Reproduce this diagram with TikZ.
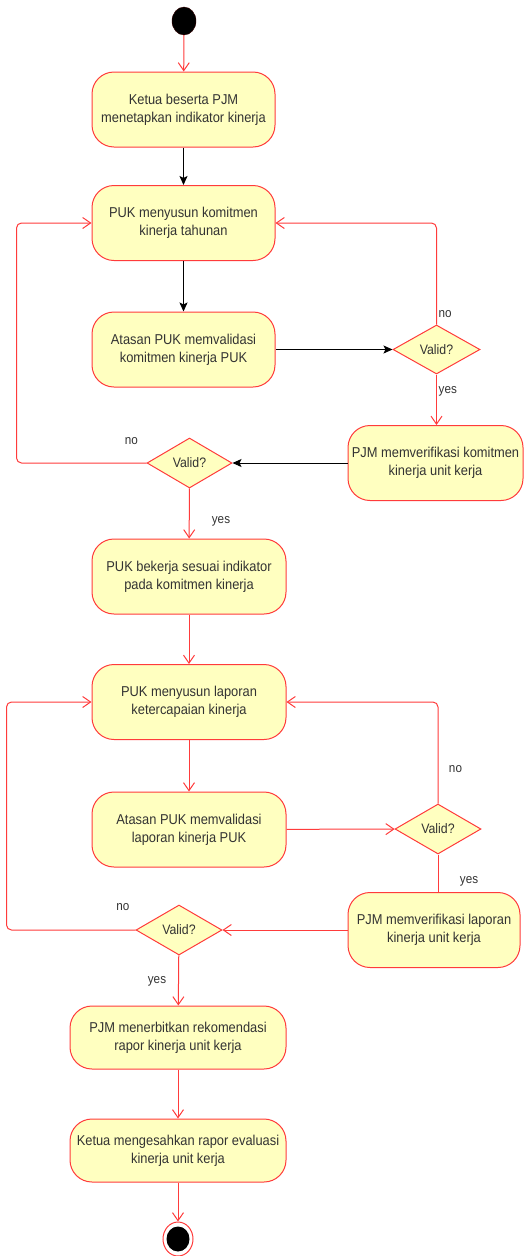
\documentclass[tikz,border=0pt]{standalone}
\usepackage{fontspec}
\setmainfont{Liberation Sans}[FakeStretch=0.9]
\usetikzlibrary{shapes.geometric,arrows.meta}
\definecolor{actfill}{HTML}{FFFFC0}
\definecolor{actline}{HTML}{FF3B3B}
\definecolor{txt}{HTML}{333333}

\begin{document}
\begin{tikzpicture}[x=1pt,y=-1pt,
    act/.style={draw=actline,fill=actfill,rounded corners=22pt,line width=1pt,
      minimum height=75pt,align=center,text=txt,font=\fontsize{14.3}{17.7}\selectfont},
    dec/.style={diamond,draw=actline,fill=actfill,line width=1pt,minimum width=87pt,
      minimum height=49pt,inner sep=0pt,text=txt,font=\fontsize{13.7}{16}\selectfont},
    startdot/.style={ellipse,fill=black,draw=black!80!red,minimum width=24pt,minimum height=28pt,inner sep=0pt},
    enddot/.style={ellipse,fill=black,minimum width=23pt,minimum height=25pt,inner sep=0pt},
    endring/.style={ellipse,draw=actline,line width=1pt,minimum width=30pt,minimum height=34pt,inner sep=0pt},
    lbl/.style={text=txt,font=\fontsize{13}{15}\selectfont,inner sep=0pt},
    redflow/.style={draw=actline,line width=1pt,rounded corners=5pt,-{Straight Barb[length=8pt,width=11pt]}},
    blkflow/.style={draw=black,line width=1pt,-{Stealth[length=9pt,width=8pt,inset=2pt]}}]
  \useasboundingbox (0,0) rectangle (523,1256);
  \path
    (184,21) node[startdot] (s) {}
    (183.5,109.5) node[act,minimum width=183pt] (a1) {Ketua beserta PJM\\menetapkan indikator kinerja}
    (183.5,223) node[act,minimum width=183pt] (a2) {PUK menyusun komitmen\\kinerja tahunan}
    (183.5,349.5) node[act,minimum width=183pt] (a3) {Atasan PUK memvalidasi\\komitmen kinerja PUK}
    (436.5,349.5) node[dec] (d1) {Valid?}
    (435.5,463) node[act,minimum width=175pt] (a4) {PJM memverifikasi komitmen\\kinerja unit kerja}
    (189.5,463) node[dec,minimum width=85pt,minimum height=50pt] (d2) {Valid?}
    (189,576.5) node[act,minimum width=194pt] (a5) {PUK bekerja sesuai indikator\\pada komitmen kinerja}
    (189,702) node[act,minimum width=194pt] (a6) {PUK menyusun laporan\\ketercapaian kinerja}
    (189,829.5) node[act,minimum width=194pt] (a7) {Atasan PUK memvalidasi\\laporan kinerja PUK}
    (438,829) node[dec,minimum width=86pt,minimum height=50pt] (d3) {Valid?}
    (434,930) node[act,minimum width=172pt] (a8) {PJM memverifikasi laporan\\kinerja unit kerja}
    (179,930) node[dec,minimum width=86pt,minimum height=50pt] (d4) {Valid?}
    (178,1037.5) node[act,minimum width=216pt,minimum height=63pt] (a9) {PJM menerbitkan rekomendasi\\rapor kinerja unit kerja}
    (178,1150.5) node[act,minimum width=216pt,minimum height=63pt] (a10) {Ketua mengesahkan rapor evaluasi\\kinerja unit kerja}
    (178,1239) node[endring] (e) {} node[enddot] (ec) {};
  \begin{scope}[blkflow]
    \draw (a1) -- (a2);
    \draw (a2) -- (a3);
    \draw (a3) -- (d1);
    \draw (a4) -- (d2);
  \end{scope}
  \begin{scope}[redflow]
    \draw (s) -- (a1);
    \draw (d1.north) |- (a2.east);
    \draw (d1.south) -- (d1.south |- a4.north);
    \draw (d2.west) -| ([xshift=-75pt]a2.west) -- (a2.west);
    \draw (d2) -- (a5);
    \draw (a5) -- (a6);
    \draw (a6) -- (a7);
    \draw (a7) -- (d3);
    \draw (d3.north) |- (a6.east);
    \draw[-] (d3.south) -- (d3.south |- a8.north);
    \draw (a8) -- (d4);
    \draw (d4.west) -| ([xshift=-85pt]a6.west) -- (a6.west);
    \draw (d4) -- (a9);
    \draw (a9) -- (a10);
    \draw (a10) -- (e);
  \end{scope}
  \path
    (438.5,314) node[lbl,anchor=west] (n1) {no}
    (438.5,391) node[lbl,anchor=west] (y1) {yes}
    (131.5,441) node[lbl] (n2) {no}
    (221,521) node[lbl] (y2) {yes}
    (455.5,769) node[lbl] (n3) {no}
    (469,881) node[lbl] (y3) {yes}
    (123,907) node[lbl] (n4) {no}
    (157,981) node[lbl] (y4) {yes};
\end{tikzpicture}
\end{document}
